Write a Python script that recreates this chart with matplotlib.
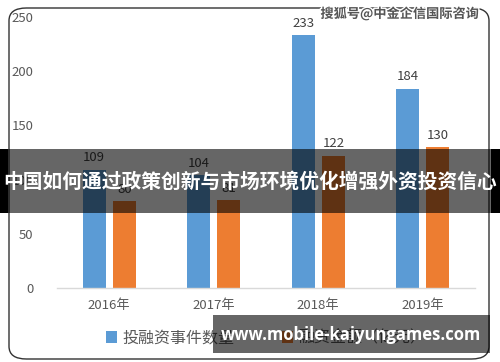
import matplotlib
matplotlib.use("Agg")
import matplotlib.pyplot as plt
import numpy as np
from matplotlib.patches import FancyBboxPatch, Rectangle
import matplotlib.patheffects as pe

plt.rcParams['font.family'] = ['Noto Sans CJK SC', 'DejaVu Sans']

years = ["2016年", "2017年", "2018年", "2019年"]
events = [109, 104, 233, 184]
amounts = [80, 81, 122, 130]
series_names = ["投融资事件数量", "融资金额（亿元）"]
yticks = [0, 50, 100, 150, 200, 250]
title_text = "中国如何通过政策创新与市场环境优化增强外资投资信心"
watermark = "搜狐号@中金企信国际咨询"
site = "www.mobile-kaiyungames.com"

W, H = 500, 362
fig = plt.figure(figsize=(W / 100, H / 100), dpi=100)
fig.patch.set_facecolor('white')

def fx(px):
    return px / W

def fy(py):
    return 1 - py / H

# rounded frame
frame = FancyBboxPatch((fx(9), fy(359)), fx(480), (351) / H,
                       boxstyle="round,pad=0,rounding_size=0.035",
                       transform=fig.transFigure, facecolor='white',
                       edgecolor='#333333', linewidth=1.0, zorder=-5)
fig.patches.append(frame)

ax = fig.add_axes([fx(57), fy(288), fx(475) - fx(57), (288 - 17) / H])
ax.set_zorder(1)
ax.set_facecolor('none')
x = np.arange(len(years))
bw = 0.22
off = 0.145
blue = '#5B9BD5'
orange = '#ED7D31'
b1 = ax.bar(x - off, events, bw, color=blue, label=series_names[0], zorder=2)
b2 = ax.bar(x + off, amounts, bw, color=orange, label=series_names[1], zorder=2)

lab_col = '#404040'
for rects, vals in ((b1, events), (b2, amounts)):
    for r, v in zip(rects, vals):
        ax.annotate(str(v), (r.get_x() + r.get_width() / 2, v),
                    xytext=(0, 4), textcoords='offset points',
                    ha='center', va='bottom', fontsize=9.5, color=lab_col)

ax.set_xlim(-0.5, len(years) - 0.5)
ax.set_ylim(0, 250)
ax.set_yticks(yticks)
ax.set_xticks(x)
ax.set_xticklabels(years)
ax.tick_params(axis='both', length=0, labelsize=9.5, labelcolor='#595959')
ax.tick_params(axis='y', pad=17)
ax.tick_params(axis='x', pad=8)
for s in ['top', 'right', 'left']:
    ax.spines[s].set_visible(False)
ax.spines['bottom'].set_color('#D9D9D9')
ax.spines['bottom'].set_linewidth(1.0)

leg = fig.legend(handles=[b1, b2], labels=series_names, loc='center',
                 bbox_to_anchor=(fx(266), fy(338)), ncol=2, frameon=False,
                 handlelength=0.7, handleheight=0.7, handletextpad=0.3,
                 columnspacing=3.0, fontsize=11.5, labelcolor='#595959')
leg.set_zorder(2)

# watermark
fig.text(fx(400), fy(14), watermark, ha='center', va='center', fontsize=9.5,
         color='#555555', fontweight='bold', zorder=5,
         path_effects=[pe.withStroke(linewidth=2, foreground='white')])

# title banner
fig.patches.append(Rectangle((0, fy(213)), 1, (213 - 149) / H,
                             transform=fig.transFigure, facecolor='black',
                             alpha=0.6, edgecolor='none', zorder=10))
fig.patches.append(Rectangle((0, fy(213)), fx(8), (213 - 149) / H,
                             transform=fig.transFigure, facecolor='black',
                             edgecolor='none', zorder=10))
fig.patches.append(Rectangle((fx(491), fy(213)), fx(9), (213 - 149) / H,
                             transform=fig.transFigure, facecolor='black',
                             edgecolor='none', zorder=10))
fig.text(0.5, fy(182), title_text, ha='center', va='center', fontsize=14.2,
         color='white', fontweight='bold', zorder=11)

# site banner
fig.patches.append(Rectangle((fx(213), fy(353)), fx(490 - 213), (353 - 315) / H,
                             transform=fig.transFigure, facecolor='black',
                             alpha=0.6, edgecolor='none', zorder=10))
fig.text(fx(351), fy(335), site, ha='center', va='center', fontsize=12,
         color='white', fontweight='bold', family=['Open Sans', 'DejaVu Sans'],
         zorder=11)

fig.savefig('out.png', dpi=100)
